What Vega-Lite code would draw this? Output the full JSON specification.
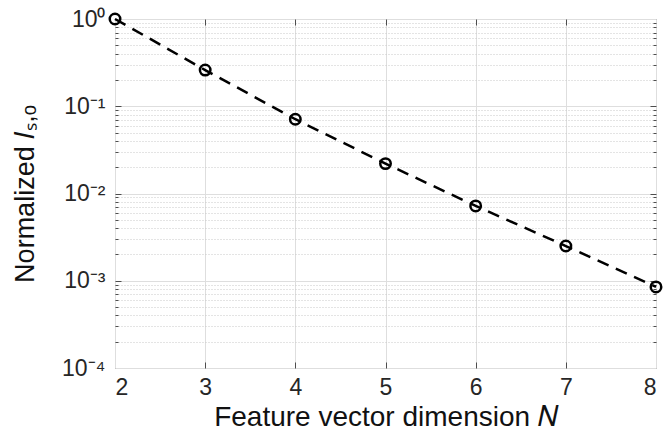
{
  "$schema": "https://vega.github.io/schema/vega-lite/v6.json",
  "width": 541,
  "height": 349,
  "autosize": "none",
  "padding": {"left": 115, "top": 19, "right": 10, "bottom": 67},
  "background": "white",
  "config": {
    "view": {"stroke": "#5a5a5a", "strokeWidth": 1},
    "axis": {
      "labelFont": "Liberation Sans",
      "titleFont": "Liberation Sans",
      "labelColor": "#262626",
      "titleColor": "#111111",
      "labelFontSize": 23,
      "titleFontSize": 27,
      "titleFontWeight": "normal",
      "domain": false,
      "tickColor": "#4d4d4d",
      "tickWidth": 1
    }
  },
  "data": {
    "values": [
      {"N": 2, "I": 1.0},
      {"N": 3, "I": 0.26},
      {"N": 4, "I": 0.071},
      {"N": 5, "I": 0.022},
      {"N": 6, "I": 0.0072},
      {"N": 7, "I": 0.0025},
      {"N": 8, "I": 0.00085}
    ]
  },
  "layer": [
    {
      "mark": {"type": "line", "color": "black", "strokeWidth": 2.5, "strokeDash": [12, 8]},
      "encoding": {
        "x": {
          "field": "N", "type": "quantitative",
          "scale": {"domain": [2, 8], "nice": false, "zero": false},
          "axis": {
            "orient": "bottom", "values": [2, 3, 4, 5, 6, 7, 8], "format": "d",
            "ticks": false, "labelPadding": 8,
            "grid": true, "gridColor": "#dedede", "gridWidth": 1,
            "title": "Feature vector dimension 𝑁", "titlePadding": 4, "titleFontSize": 28
          }
        },
        "y": {
          "field": "I", "type": "quantitative",
          "scale": {"type": "log", "domain": [0.0001, 1], "nice": false},
          "axis": {
            "orient": "left", "values": [0.0001, 0.001, 0.01, 0.1, 1],
            "labelExpr": "datum.value > 0.5 ? '10⁰' : datum.value > 0.05 ? '10⁻¹' : datum.value > 0.005 ? '10⁻²' : datum.value > 0.0005 ? '10⁻³' : '10⁻⁴'",
            "ticks": false, "labelPadding": 10,
            "grid": true, "gridColor": "#dedede", "gridWidth": 1,
            "title": "Normalized 𝐼ₛ,ₒ", "titlePadding": 22
          }
        }
      }
    },
    {
      "mark": {"type": "point", "shape": "circle", "filled": false, "color": "black", "strokeWidth": 2.5, "size": 110, "opacity": 1},
      "encoding": {
        "x": {
          "field": "N", "type": "quantitative",
          "axis": {"orient": "bottom", "values": [3, 4, 5, 6, 7], "labels": false, "grid": false, "tickSize": -6, "title": null}
        },
        "y": {
          "field": "I", "type": "quantitative",
          "axis": {
            "orient": "left",
            "values": [0.0002, 0.0003, 0.0004, 0.0005, 0.0006, 0.0007, 0.0008, 0.0009,
                       0.002, 0.003, 0.004, 0.005, 0.006, 0.007, 0.008, 0.009,
                       0.02, 0.03, 0.04, 0.05, 0.06, 0.07, 0.08, 0.09,
                       0.2, 0.3, 0.4, 0.5, 0.6, 0.7, 0.8, 0.9],
            "labels": false, "tickSize": -3, "title": null,
            "grid": true, "gridColor": "#c8c8c8", "gridDash": [1, 2], "gridWidth": 1
          }
        }
      }
    },
    {
      "mark": {"type": "point", "opacity": 0},
      "encoding": {
        "x": {
          "field": "N", "type": "quantitative",
          "axis": {"orient": "top", "values": [3, 4, 5, 6, 7], "labels": false, "grid": false, "tickSize": -6, "title": null}
        },
        "y": {
          "field": "I", "type": "quantitative",
          "axis": {"orient": "left", "values": [0.001, 0.01, 0.1], "labels": false, "grid": false, "tickSize": -6, "title": null}
        }
      }
    },
    {
      "mark": {"type": "point", "opacity": 0},
      "encoding": {
        "x": {"field": "N", "type": "quantitative", "axis": null},
        "y": {
          "field": "I", "type": "quantitative",
          "axis": {"orient": "right", "values": [0.001, 0.01, 0.1], "labels": false, "grid": false, "tickSize": -6, "title": null}
        }
      }
    },
    {
      "mark": {"type": "point", "opacity": 0},
      "encoding": {
        "x": {"field": "N", "type": "quantitative", "axis": null},
        "y": {
          "field": "I", "type": "quantitative",
          "axis": {
            "orient": "right",
            "values": [0.0002, 0.0003, 0.0004, 0.0005, 0.0006, 0.0007, 0.0008, 0.0009,
                       0.002, 0.003, 0.004, 0.005, 0.006, 0.007, 0.008, 0.009,
                       0.02, 0.03, 0.04, 0.05, 0.06, 0.07, 0.08, 0.09,
                       0.2, 0.3, 0.4, 0.5, 0.6, 0.7, 0.8, 0.9],
            "labels": false, "grid": false, "tickSize": -3, "title": null
          }
        }
      }
    }
  ],
  "resolve": {"axis": {"x": "independent", "y": "independent"}}
}
